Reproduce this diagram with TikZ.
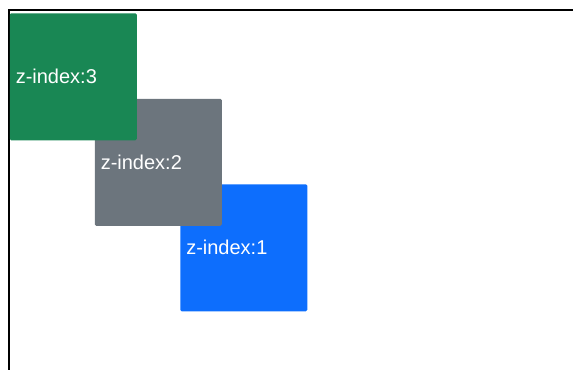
\documentclass[tikz,border=0pt]{standalone}
\usepackage{fontspec}
\setmainfont{Liberation Sans}
\usetikzlibrary{positioning}
\definecolor{zgreen}{HTML}{198754}
\definecolor{zgray}{HTML}{6C757D}
\definecolor{zblue}{HTML}{0D6EFD}

\begin{document}
\begin{tikzpicture}[x=0.75pt, y=-0.75pt,
  zbox/.style={anchor=north west, rounded corners=1pt, text=white,
    minimum width=95.25pt, minimum height=95.25pt, text width=86.25pt,
    inner xsep=4.5pt, inner ysep=0pt, align=left,
    font=\fontsize{15}{18}\selectfont}]

\useasboundingbox (0,0) rectangle (573,370);

% Container edge (top and left)
\draw[line width=1.1pt] (9,370) |- (573,10);

% Boxes, lowest z-index first so the higher ones sit on top
\foreach \name/\x/\y/\col/\idx in {blue/180/184/zblue/1, gray/94.5/98.5/zgray/2, green/9.5/13/zgreen/3} {
    \node[zbox, fill=\col] (\name) at (\x,\y) {z-index:\idx};
}

\end{tikzpicture}
\end{document}
